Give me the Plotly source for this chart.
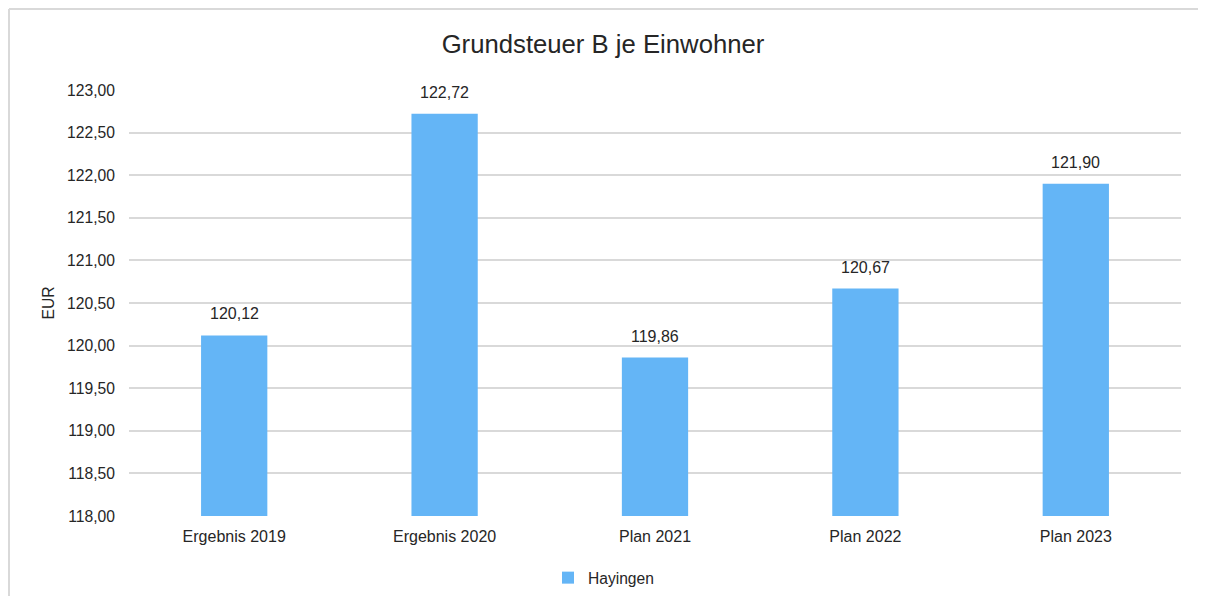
import plotly.graph_objects as go

categories = ["Ergebnis 2019", "Ergebnis 2020", "Plan 2021", "Plan 2022", "Plan 2023"]
values = [120.12, 122.72, 119.86, 120.67, 121.90]
series_name = "Hayingen"
y_ticks = [118.0, 118.5, 119.0, 119.5, 120.0, 120.5, 121.0, 121.5, 122.0, 122.5, 123.0]

FONT = "Liberation Sans, Arial, sans-serif"
BAR = "#64B5F6"
GRID = "#d9d9d9"
TXT = "#262626"

W, H = 1190, 588
L, R, T, B = 121, 17, 82, 80
PH = H - T - B
PW = W - L - R

fig = go.Figure()
fig.add_trace(go.Bar(
    x=categories, y=values, name=series_name,
    marker=dict(color=BAR, line=dict(width=0)),
    width=0.315, showlegend=True,
))

for c, v in zip(categories, values):
    fig.add_annotation(
        x=c, y=v, xref="x", yref="y",
        text=f"{v:.2f}".replace(".", ","),
        showarrow=False, yanchor="bottom", yshift=11,
        font=dict(family=FONT, size=16, color=TXT),
    )

fig.update_layout(
    width=W, height=H,
    margin=dict(l=L, r=R, t=T, b=B, autoexpand=False),
    paper_bgcolor="white", plot_bgcolor="white",
    separators=",.",
    font=dict(family=FONT, size=16, color=TXT),
    title=dict(text="Grundsteuer B je Einwohner", x=0.5, xanchor="center", xref="container",
               y=1 - 36 / H, yanchor="middle", yref="container",
               font=dict(family=FONT, size=25.7, color=TXT)),
    xaxis=dict(showgrid=False, showline=False, ticks="", ticklabelstandoff=9,
               tickfont=dict(family=FONT, size=16, color=TXT)),
    yaxis=dict(range=[118, 123], tickvals=y_ticks, tickformat=".2f",
               showgrid=True, gridcolor=GRID, gridwidth=2, zeroline=False,
               showline=False, ticks="", ticklabelstandoff=13,
               tickfont=dict(family=FONT, size=15.7, color=TXT),
               title=dict(text="EUR", standoff=8,
                          font=dict(family=FONT, size=15.7, color=TXT))),
    legend=dict(orientation="h", x=(540 - L) / PW, xanchor="left",
                y=(PH - (570 - T)) / PH, yanchor="middle",
                font=dict(family=FONT, size=15.6, color=TXT)),
    shapes=[
        dict(type="line", xref="paper", yref="paper", x0=(1 - L) / PW, x1=1.1,
             y0=1 + (T - 1) / PH, y1=1 + (T - 1) / PH, line=dict(color=GRID, width=2)),
        dict(type="line", xref="paper", yref="paper", x0=(1 - L) / PW, x1=(1 - L) / PW,
             y0=1 + (T - 1) / PH, y1=-0.3, line=dict(color=GRID, width=2)),
    ],
)

fig.write_html("out.html")
